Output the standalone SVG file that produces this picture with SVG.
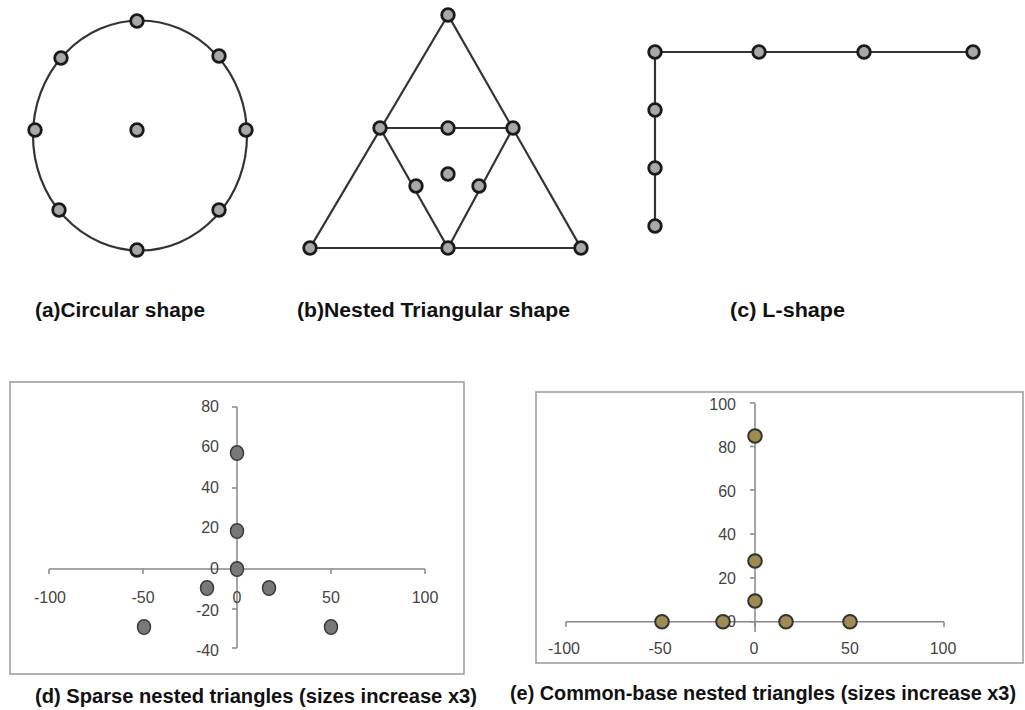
<svg xmlns="http://www.w3.org/2000/svg" width="1025" height="710" viewBox="0 0 1025 710">
<style>
.ln{stroke:#333;stroke-width:2.2;fill:none}
.nd{fill:#a8a8a8;stroke:#1a1a1a;stroke-width:2.8}
.cap{font-family:"Liberation Sans",Arial,sans-serif;font-weight:bold;fill:#111}
.box{fill:#fff;stroke:#a0a0a0;stroke-width:1.6}
.ax{stroke:#888;stroke-width:1.5;fill:none}
.tk{font-family:"Liberation Sans",Arial,sans-serif;font-size:16px;fill:#444}
.pd{fill:#787878;stroke:#3a3a3a;stroke-width:1.5}
.pe{fill:#9c8c52;stroke:#333;stroke-width:2}
</style>
<rect width="1025" height="710" fill="#fff"/>
<g id="connectors">
<ellipse class="ln" cx="140" cy="135.5" rx="107" ry="115"/>
<polygon class="ln" points="448,15 310,248 581,248"/>
<polyline class="ln" points="380,128 513,128 448,248 380,128"/>
<polyline class="ln" points="655,226 655,52 973,52"/>
</g>
<g id="circle-nodes">
<circle class="nd" cx="137" cy="21" r="6.3"/>
<circle class="nd" cx="61" cy="58" r="6.3"/>
<circle class="nd" cx="219" cy="56" r="6.3"/>
<circle class="nd" cx="35" cy="130" r="6.3"/>
<circle class="nd" cx="246" cy="130" r="6.3"/>
<circle class="nd" cx="59" cy="210" r="6.3"/>
<circle class="nd" cx="219" cy="210" r="6.3"/>
<circle class="nd" cx="137" cy="250" r="6.3"/>
<circle class="nd" cx="137" cy="130" r="6.3"/>
</g>
<g id="triangle-nodes">
<circle class="nd" cx="448" cy="15" r="6.3"/>
<circle class="nd" cx="380" cy="128" r="6.3"/>
<circle class="nd" cx="448" cy="128" r="6.3"/>
<circle class="nd" cx="513" cy="128" r="6.3"/>
<circle class="nd" cx="448" cy="174" r="6.3"/>
<circle class="nd" cx="416" cy="186" r="6.3"/>
<circle class="nd" cx="479" cy="186" r="6.3"/>
<circle class="nd" cx="310" cy="248" r="6.3"/>
<circle class="nd" cx="448" cy="248" r="6.3"/>
<circle class="nd" cx="581" cy="248" r="6.3"/>
</g>
<g id="lshape-nodes">
<circle class="nd" cx="655" cy="52" r="6.3"/>
<circle class="nd" cx="759" cy="52" r="6.3"/>
<circle class="nd" cx="864" cy="52" r="6.3"/>
<circle class="nd" cx="973" cy="52" r="6.3"/>
<circle class="nd" cx="655" cy="110" r="6.3"/>
<circle class="nd" cx="655" cy="168" r="6.3"/>
<circle class="nd" cx="655" cy="226" r="6.3"/>
</g>
<g id="labels">
<text class="cap" x="35" y="317" font-size="20" textLength="170" lengthAdjust="spacingAndGlyphs">(a)Circular shape</text>
<text class="cap" x="297" y="317" font-size="20" textLength="273" lengthAdjust="spacingAndGlyphs">(b)Nested Triangular shape</text>
<text class="cap" x="730" y="317" font-size="20" textLength="115" lengthAdjust="spacingAndGlyphs">(c)  L-shape</text>
</g>
<g id="chart-d">
<rect class="box" x="10" y="382" width="454" height="292"/>
<path class="ax" d="M237,407 V648 M232,407 H237 M232,448 H237 M232,488 H237 M232,528 H237 M232,569 H237 M232,609 H237 M232,648 H237"/>
<path class="ax" d="M49,569 H425 M49,569 V574 M143,569 V574 M237,569 V574 M331,569 V574 M425,569 V574"/>
<g class="tk" text-anchor="end">
<text x="219" y="412">80</text>
<text x="219" y="452">60</text>
<text x="219" y="493">40</text>
<text x="219" y="533">20</text>
<text x="219" y="574">0</text>
<text x="219" y="616">-20</text>
<text x="219" y="656">-40</text>
</g>
<g class="tk" text-anchor="middle">
<text x="50" y="603">-100</text>
<text x="143" y="603">-50</text>
<text x="237" y="603">0</text>
<text x="331" y="603">50</text>
<text x="425" y="603">100</text>
</g>
<ellipse class="pd" cx="237" cy="453" rx="6.5" ry="7.3"/>
<ellipse class="pd" cx="237" cy="531" rx="6.5" ry="7.3"/>
<ellipse class="pd" cx="237" cy="569" rx="6.5" ry="7.3"/>
<ellipse class="pd" cx="207" cy="588" rx="6.5" ry="7.3"/>
<ellipse class="pd" cx="269" cy="588" rx="6.5" ry="7.3"/>
<ellipse class="pd" cx="144" cy="627" rx="6.5" ry="7.3"/>
<ellipse class="pd" cx="331" cy="627" rx="6.5" ry="7.3"/>
<text class="cap" x="35" y="703" font-size="20" textLength="442" lengthAdjust="spacingAndGlyphs">(d) Sparse nested triangles (sizes increase x3)</text>
</g>
<g id="chart-e">
<rect class="box" x="536" y="392" width="487" height="271"/>
<path class="ax" d="M755,403 V632 M750,403 H755 M750,446.5 H755 M750,490 H755 M750,534 H755 M750,578 H755 M750,621.7 H755"/>
<path class="ax" d="M566,621.7 H944 M566,621.7 V627 M660,621.7 V627 M755,621.7 V627 M850,621.7 V627 M944,621.7 V627"/>
<g class="tk" text-anchor="end">
<text x="736" y="410">100</text>
<text x="736" y="453">80</text>
<text x="736" y="497">60</text>
<text x="736" y="540">40</text>
<text x="736" y="584">20</text>
<text x="736" y="627">0</text>
</g>
<g class="tk" text-anchor="middle">
<text x="564" y="654">-100</text>
<text x="660" y="654">-50</text>
<text x="754" y="654">0</text>
<text x="850" y="654">50</text>
<text x="943" y="654">100</text>
</g>
<circle class="pe" cx="755" cy="436" r="6.8"/>
<circle class="pe" cx="755" cy="561" r="6.8"/>
<circle class="pe" cx="755" cy="601" r="6.8"/>
<circle class="pe" cx="662" cy="621.7" r="6.8"/>
<circle class="pe" cx="723" cy="621.7" r="6.8"/>
<circle class="pe" cx="786" cy="621.7" r="6.8"/>
<circle class="pe" cx="850" cy="621.7" r="6.8"/>
<text class="cap" x="510" y="700" font-size="20" textLength="506" lengthAdjust="spacingAndGlyphs">(e) Common-base nested triangles (sizes increase x3)</text>
</g>
</svg>
